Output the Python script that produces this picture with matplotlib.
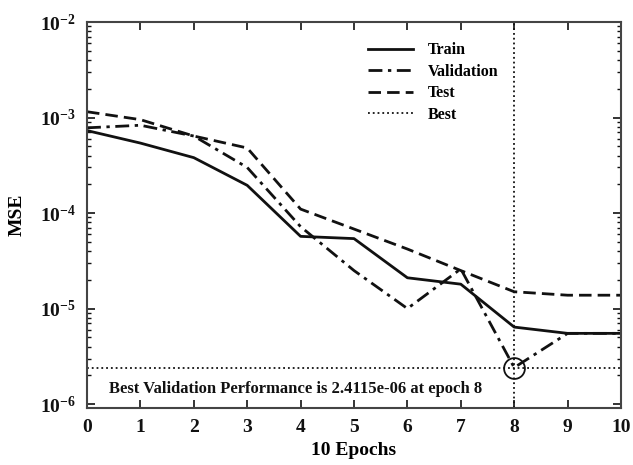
import numpy as np
import matplotlib
matplotlib.use("Agg")
import matplotlib.pyplot as plt
from matplotlib.ticker import FixedLocator, FuncFormatter, LogLocator, NullFormatter

plt.rcParams['font.family'] = 'Liberation Serif'
plt.rcParams['font.weight'] = 'bold'
plt.rcParams['mathtext.fontset'] = 'custom'
plt.rcParams['mathtext.rm'] = 'Liberation Serif:bold'
plt.rcParams['mathtext.bf'] = 'Liberation Serif:bold'
plt.rcParams['mathtext.it'] = 'Liberation Serif:bold'

# data
epochs = [0, 1, 2, 3, 4, 5, 6, 7, 8, 9, 10]
train = [7.3e-4, 5.4e-4, 3.8e-4, 1.95e-4, 5.7e-5, 5.4e-5, 2.1e-5, 1.8e-5, 6.4e-6, 5.5e-6, 5.5e-6]
validation = [7.8e-4, 8.3e-4, 6.4e-4, 3.0e-4, 7.2e-5, 2.5e-5, 1.0e-5, 2.6e-5, 2.4115e-6, 5.5e-6, 5.5e-6]
test = [1.15e-3, 9.5e-4, 6.4e-4, 4.8e-4, 1.1e-4, 6.8e-5, 4.2e-5, 2.5e-5, 1.5e-5, 1.38e-5, 1.38e-5]
best_epoch = 8
best_perf = 2.4115e-6

ink = '#111111'
fig = plt.figure(figsize=(6.33, 4.65), dpi=100)
ax = fig.add_axes([87 / 633, 1 - 408 / 465, (621 - 87) / 633, (408 - 22) / 465])

ax.semilogy(epochs, train, '-', color=ink, lw=2, label='Train')
ax.semilogy(epochs, validation, color=ink, lw=2, dashes=(5, 2, 1.2, 2), label='Validation')
ax.semilogy(epochs, test, color=ink, lw=2, dashes=(4.5, 2.2), label='Test')
ax.axvline(best_epoch, ls=':', color=ink, lw=1.3, label='Best')
ax.axhline(best_perf, ls=':', color=ink, lw=1.3)
ax.plot([best_epoch], [best_perf], 'o', mfc='none', mec=ink, ms=15, mew=1.3)

ax.set_xlim(0, 10)
ax.set_ylim(9.1e-7, 1e-2)
ax.xaxis.set_major_locator(FixedLocator(epochs))
ax.yaxis.set_major_locator(LogLocator(base=10, numticks=10))
ax.yaxis.set_minor_locator(LogLocator(base=10, subs=np.arange(2, 10), numticks=10))
ax.yaxis.set_minor_formatter(NullFormatter())
ax.yaxis.set_major_formatter(FuncFormatter(lambda v, p: r'$10^{%d}$' % round(np.log10(v))))
ax.tick_params(which='both', direction='in', top=True, right=True, colors=ink, labelsize=14)
ax.tick_params(which='major', length=6, width=1.2, pad=8)
ax.tick_params(which='minor', length=3, width=1)
for s in ax.spines.values():
    s.set_linewidth(1.5)
    s.set_color('#444444')

ax.set_xlabel('10 Epochs', fontsize=14, fontweight='bold')
ax.set_ylabel('MSE', fontsize=14, fontweight='bold', labelpad=10)

ax.text(0.42, 1.45e-6, 'Best Validation Performance is 2.4115e-06 at epoch 8',
        fontsize=12, fontweight='bold', color=ink, va='center')

leg = ax.legend(loc='upper left', bbox_to_anchor=(0.5, 0.985), frameon=False,
                fontsize=11.5, handlelength=2.8, labelspacing=0.35, handletextpad=0.9)

fig.savefig('out.png', dpi=100)
